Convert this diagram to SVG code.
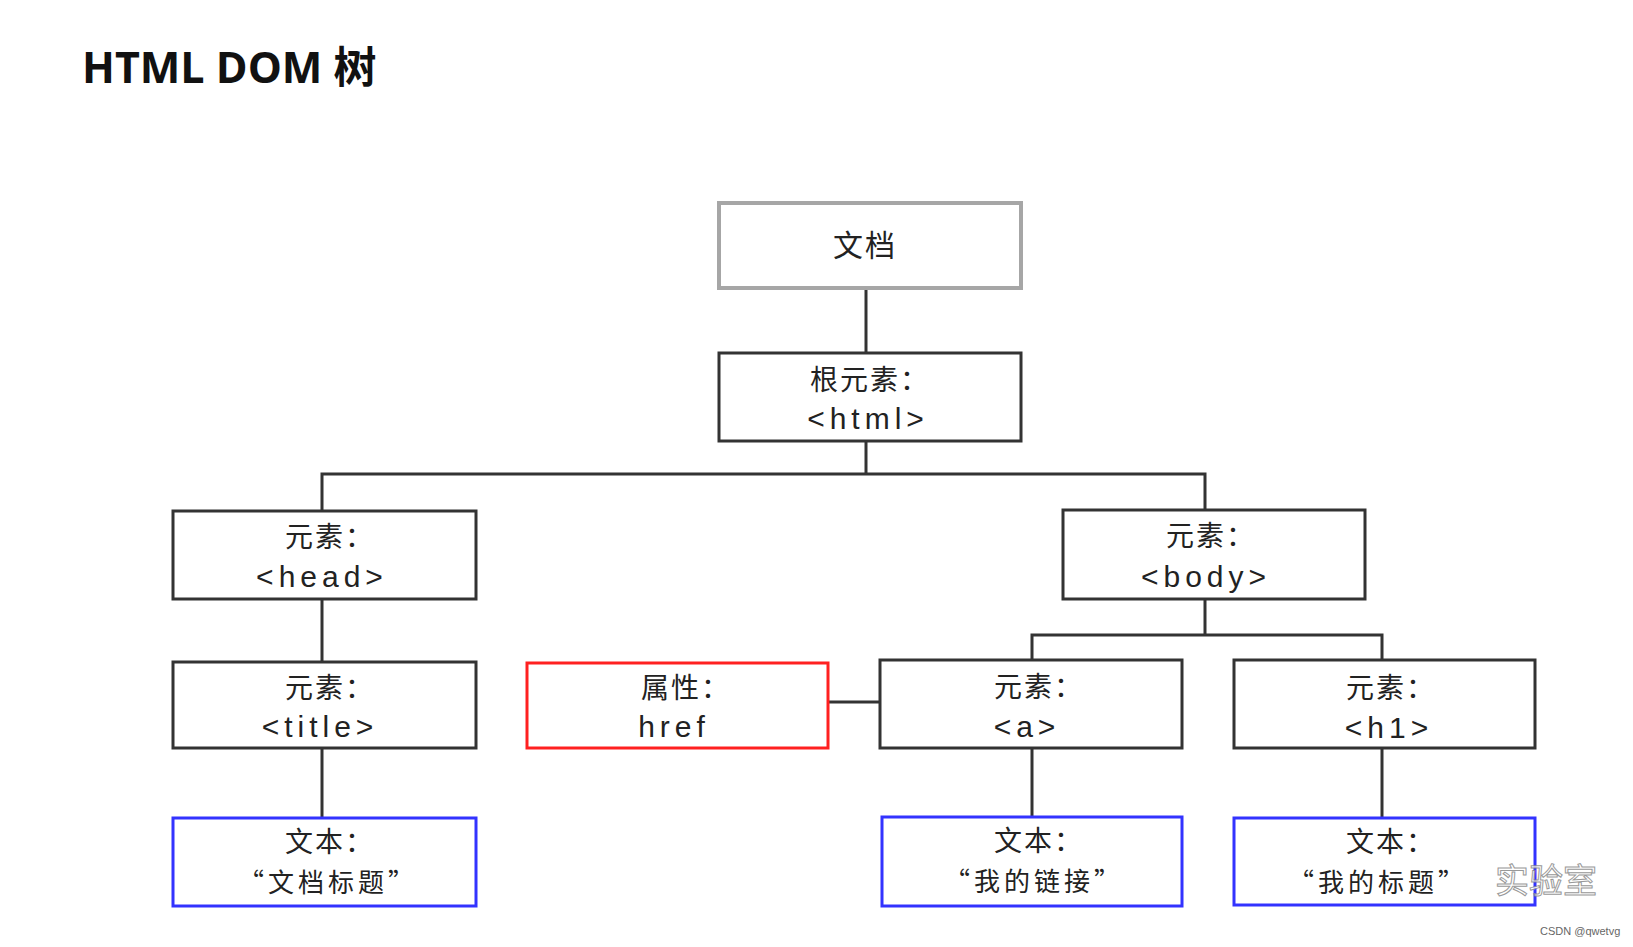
<svg xmlns="http://www.w3.org/2000/svg" width="1633" height="947" viewBox="0 0 1633 947">
<style>
.box{fill:#fff;stroke:#333;stroke-width:3}
.doc{fill:#fff;stroke:#a6a6a6;stroke-width:4}
.attr{fill:#fff;stroke:#ff2020;stroke-width:3}
.txt{fill:#fff;stroke:#3333ff;stroke-width:3}
.lbl{font-family:"Noto Sans CJK SC","Noto Sans",sans-serif;font-size:28px;fill:#222;text-anchor:middle;letter-spacing:2px}
.q{font-size:26px;letter-spacing:4px}
.lat{font-family:"Liberation Sans","Noto Sans CJK SC",sans-serif;font-size:30px;fill:#222;text-anchor:middle;letter-spacing:5px}
.ln{stroke:#333;stroke-width:3;fill:none}
</style>
<rect width="1633" height="947" fill="#fff"/>
<text x="82" y="83" font-family="Open Sans, Liberation Sans, Noto Sans CJK SC, sans-serif" font-weight="bold" font-size="43" fill="#111">HTML DOM 树</text>
<g id="connectors">
<line class="ln" x1="866" y1="288" x2="866" y2="353"/>
<polyline class="ln" points="322,511 322,474 1205,474 1205,510"/>
<line class="ln" x1="866" y1="441" x2="866" y2="474"/>
<line class="ln" x1="322" y1="599" x2="322" y2="662"/>
<line class="ln" x1="322" y1="748" x2="322" y2="818"/>
<polyline class="ln" points="1032,660 1032,635 1382,635 1382,660"/>
<line class="ln" x1="1205" y1="599" x2="1205" y2="635"/>
<line class="ln" x1="828" y1="702" x2="880" y2="702"/>
<line class="ln" x1="1032" y1="748" x2="1032" y2="817"/>
<line class="ln" x1="1382" y1="748" x2="1382" y2="818"/>
</g>
<g id="doc"><rect class="doc" x="719" y="203" width="302" height="85"/><text class="lbl" x="865" y="256" style="font-size:30px">文档</text></g>
<g id="html"><rect class="box" x="719" y="353" width="302" height="88"/><text class="lbl" x="870" y="390">根元素：</text><text class="lat" x="868" y="429">&lt;html&gt;</text></g>
<g id="head"><rect class="box" x="173" y="511" width="303" height="88"/><text class="lbl" x="330" y="547">元素：</text><text class="lat" x="322" y="587">&lt;head&gt;</text></g>
<g id="body"><rect class="box" x="1063" y="510" width="302" height="89"/><text class="lbl" x="1211" y="546">元素：</text><text class="lat" x="1206" y="587">&lt;body&gt;</text></g>
<g id="title"><rect class="box" x="173" y="662" width="303" height="86"/><text class="lbl" x="330" y="698">元素：</text><text class="lat" x="320" y="737">&lt;title&gt;</text></g>
<g id="href"><rect class="attr" x="527" y="663" width="301" height="85"/><text class="lbl" x="686" y="698">属性：</text><text class="lat" x="674" y="737">href</text></g>
<g id="a"><rect class="box" x="880" y="660" width="302" height="88"/><text class="lbl" x="1039" y="697">元素：</text><text class="lat" x="1027" y="737">&lt;a&gt;</text></g>
<g id="h1"><rect class="box" x="1234" y="660" width="301" height="88"/><text class="lbl" x="1391" y="698">元素：</text><text class="lat" x="1389" y="738">&lt;h1&gt;</text></g>
<g id="text-title"><rect class="txt" x="173" y="818" width="303" height="88"/><text class="lbl" x="330" y="852">文本：</text><text class="lbl q" x="328" y="892">“文档标题”</text></g>
<g id="text-a"><rect class="txt" x="882" y="817" width="300" height="89"/><text class="lbl" x="1039" y="851">文本：</text><text class="lbl q" x="1034" y="891">“我的链接”</text></g>
<g id="text-h1"><rect class="txt" x="1234" y="818" width="301" height="87"/><text class="lbl" x="1391" y="852">文本：</text><text class="lbl q" x="1378" y="892">“我的标题”</text></g>
<text x="1495" y="893" font-family="Noto Sans CJK SC, sans-serif" font-size="34" fill="#fff" stroke="#888" stroke-width="1" opacity="0.85">实验室</text>
<text x="1540" y="935" font-family="Liberation Sans, sans-serif" font-size="11" fill="#666">CSDN @qwetvg</text>
</svg>
